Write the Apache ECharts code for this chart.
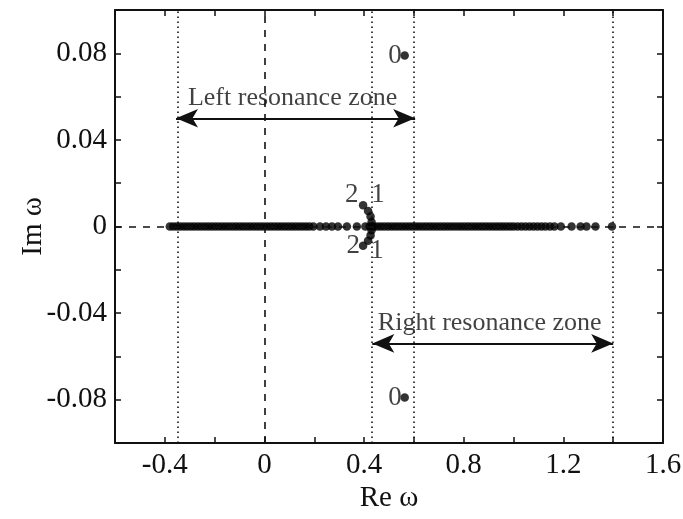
<!DOCTYPE html>
<html>
<head>
<meta charset="utf-8">
<script src="https://cdn.jsdelivr.net/npm/echarts@6/dist/echarts.min.js"></script>
<style>
html, body { margin: 0; padding: 0; background: #fff; }
#chart { width: 683px; height: 519px; }
</style>
</head>
<body>
<div id="chart"></div>
<script>
// eigenvalues lying on the real axis (Re omega, Im omega = 0)
var realRe = [
    -0.380, -0.366, -0.352, -0.338, -0.324, -0.310, -0.296, -0.282, -0.268, -0.254,
    -0.240, -0.226, -0.212, -0.198, -0.184, -0.170, -0.156, -0.142, -0.128, -0.114,
    -0.100, -0.086, -0.072, -0.058, -0.044, -0.030, -0.016, -0.002, 0.012, 0.026,
    0.040, 0.054, 0.068, 0.082, 0.096, 0.110, 0.124, 0.138, 0.152, 0.166,
    0.180, 0.196, 0.223, 0.247, 0.271, 0.295, 0.331, 0.371, 0.405, 0.422, 0.432,
    0.440, 0.454, 0.468, 0.482, 0.496, 0.510, 0.524, 0.538, 0.552, 0.566,
    0.580, 0.594, 0.608, 0.622, 0.636, 0.650, 0.664, 0.678, 0.692, 0.706,
    0.720, 0.734, 0.748, 0.762, 0.776, 0.790, 0.804, 0.818, 0.832, 0.846,
    0.860, 0.874, 0.888, 0.902, 0.916, 0.930, 0.944, 0.958, 0.972, 0.986,
    1.000, 1.016, 1.032, 1.048, 1.064, 1.080, 1.096, 1.112, 1.128, 1.146,
    1.164, 1.190, 1.233, 1.269, 1.293, 1.329, 1.395
];

// complex eigenvalues (branches 1,2 near Re 0.4 and mode 0)
var complexRe = [0.396, 0.416, 0.426, 0.430, 0.396, 0.416, 0.426, 0.430, 0.563, 0.563];
var complexIm = [0.0098, 0.0072, 0.0046, 0.0021, -0.0089, -0.0066, -0.0041, -0.0017, 0.079, -0.079];

// mode numbers written next to the points
var modeText = ['0', '0', '2', '1', '2', '1'];
var modeRe = [0.563, 0.563, 0.350, 0.456, 0.356, 0.452];
var modeIm = [0.079, -0.079, 0.0146, 0.0144, -0.009, -0.0112];

// resonance zones
var zoneNames = ['Left resonance zone', 'Right resonance zone'];
var zoneFrom = [-0.355, 0.433];
var zoneTo = [0.605, 1.4];
var zoneIm = [0.05, -0.054];
var zoneTextIm = [0.0592, -0.0448];

var xTicks = { min: -0.6, max: 1.6, interval: 0.2 };
var yTicks = { min: -0.1, max: 0.1, interval: 0.02 };

var font = "'Liberation Serif', 'Times New Roman', serif";
var ink = '#111';

var pointData = realRe.map(function (x) { return [x, 0]; });
for (var i = 0; i < complexRe.length; i++) pointData.push([complexRe[i], complexIm[i]]);

var modeData = modeText.map(function (t, i) {
    var isZero = t === '0';
    return {
        value: [modeRe[i], modeIm[i]],
        label: {
            formatter: t,
            position: isZero ? 'left' : 'inside',
            distance: 3
        }
    };
});

var zoneLabelData = zoneNames.map(function (n, i) {
    return { value: [(zoneFrom[i] + zoneTo[i]) / 2 - 0.012, zoneTextIm[i]], label: { formatter: n } };
});

function axisCommon(pos, showLabel, fmt) {
    return {
        position: pos,
        axisLine: { show: true, onZero: false, lineStyle: { color: ink, width: 2 } },
        axisTick: { show: true, inside: true, length: 6, lineStyle: { color: ink, width: 1.5 } },
        splitLine: { show: false },
        axisLabel: {
            show: showLabel,
            fontFamily: font,
            fontSize: 29,
            color: ink,
            formatter: fmt
        }
    };
}

function xFmt(v) {
    var r = Math.round(v * 10) / 10;
    if (Math.abs(r / 0.4 - Math.round(r / 0.4)) > 1e-6) return '';
    return String(r);
}
function yFmt(v) {
    var r = Math.round(v * 100) / 100;
    if (Math.abs(r / 0.04 - Math.round(r / 0.04)) > 1e-6 || Math.abs(r) > 0.09) return '';
    return String(r);
}

var xBottom = Object.assign(axisCommon('bottom', true, xFmt), {
    type: 'value', min: xTicks.min, max: xTicks.max, interval: xTicks.interval,
    name: 'Re ω', nameLocation: 'middle', nameGap: 41, nameMoveOverlap: false,
    nameTextStyle: { fontFamily: font, fontSize: 29, color: ink }
});
xBottom.axisLabel.margin = 8;
var xTop = Object.assign(axisCommon('top', false), {
    type: 'value', min: xTicks.min, max: xTicks.max, interval: xTicks.interval
});
var yLeft = Object.assign(axisCommon('left', true, yFmt), {
    type: 'value', min: yTicks.min, max: yTicks.max, interval: yTicks.interval,
    name: 'Im ω', nameLocation: 'middle', nameGap: 67, nameRotate: 90, nameMoveOverlap: false,
    nameTextStyle: { fontFamily: font, fontSize: 29, color: ink }
});
yLeft.axisLabel.margin = 8;
var yRight = Object.assign(axisCommon('right', false), {
    type: 'value', min: yTicks.min, max: yTicks.max, interval: yTicks.interval
});

var chart = echarts.init(document.getElementById('chart'), null, { renderer: 'canvas' });
chart.setOption({
    backgroundColor: '#fff',
    animation: false,
    grid: { left: 115, right: 20, top: 10, bottom: 76, containLabel: false, outerBoundsMode: 'none' },
    xAxis: [xBottom, xTop],
    yAxis: [yLeft, yRight],
    series: [
        {
            // reference lines
            type: 'line',
            data: [],
            silent: true,
            markLine: {
                silent: true,
                symbol: 'none',
                label: { show: false },
                animation: false,
                data: [
                    { xAxis: 0, lineStyle: { type: [7, 7], width: 1.6, color: ink } },
                    { yAxis: 0, lineStyle: { type: [7, 7], width: 1.6, color: ink } },
                    { xAxis: zoneFrom[0], lineStyle: { type: [1.5, 3.5], width: 1.6, color: ink } },
                    { xAxis: zoneFrom[1], lineStyle: { type: [1.5, 3.5], width: 1.6, color: ink } },
                    { xAxis: zoneTo[0], lineStyle: { type: [1.5, 3.5], width: 1.6, color: ink } },
                    { xAxis: zoneTo[1], lineStyle: { type: [1.5, 3.5], width: 1.6, color: ink } }
                ]
            }
        },
        {
            // zone arrows
            type: 'line',
            data: [],
            silent: true,
            markLine: {
                silent: true,
                symbol: ['arrow', 'arrow'],
                symbolSize: [14, 22],
                label: { show: false },
                lineStyle: { type: 'solid', width: 2, color: ink },
                animation: false,
                data: zoneNames.map(function (n, i) {
                    return [{ coord: [zoneFrom[i], zoneIm[i]] }, { coord: [zoneTo[i], zoneIm[i]] }];
                })
            }
        },
        {
            type: 'scatter',
            data: pointData,
            symbol: 'circle',
            symbolSize: 8.5,
            itemStyle: { color: '#000' },
            silent: true
        },
        {
            type: 'scatter',
            data: modeData,
            symbolSize: 0,
            silent: true,
            label: { show: true, fontFamily: font, fontSize: 27, color: ink }
        },
        {
            type: 'scatter',
            data: zoneLabelData,
            symbolSize: 0,
            silent: true,
            label: { show: true, position: 'inside', fontFamily: font, fontSize: 26, color: ink }
        }
    ]
});
</script>
</body>
</html>
